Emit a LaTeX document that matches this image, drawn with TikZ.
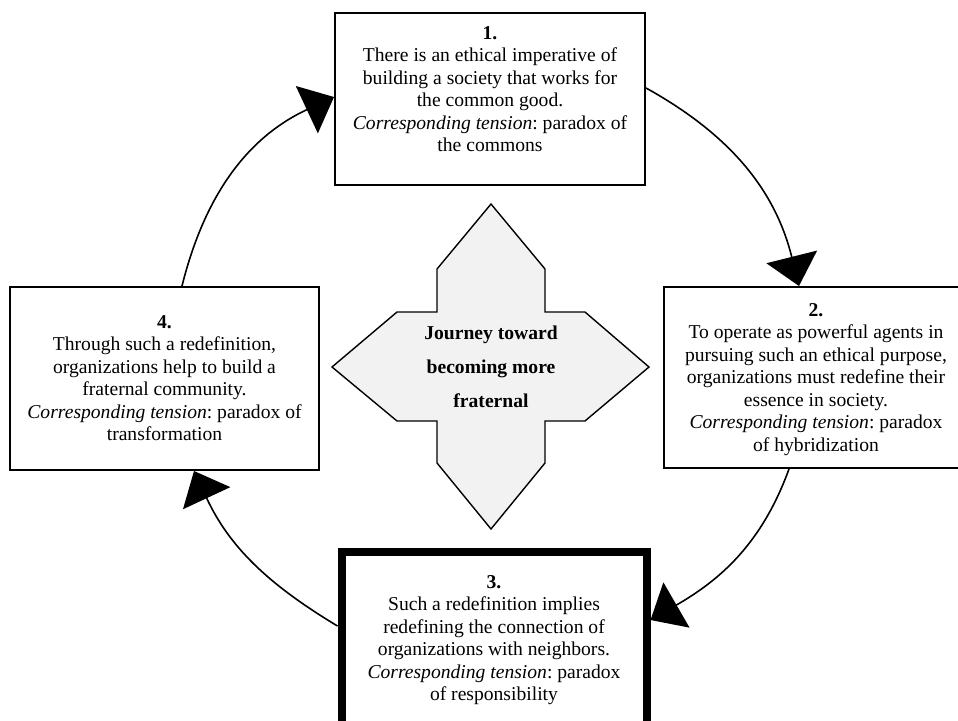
\documentclass[tikz,border=0pt]{standalone}
\usepackage{fontspec}
\setmainfont{Liberation Serif}
\frenchspacing
\usepackage{tikz}
\usetikzlibrary{calc,shapes,positioning}
\usetikzlibrary{arrows.meta}
\tikzset{>={Triangle[length=30pt,width=52pt]}}

\begin{document}
\begin{tikzpicture}[x=1pt,y=1pt]
  \useasboundingbox (0,0) rectangle (958,-720);
  \begin{scope}
    \tikzstyle{bnode} = [draw=black, line width=2pt, rectangle, inner sep=0pt]
    \tikzstyle{tnode} = [align=center, inner sep=0pt, font=\fontsize{19.6}{22.5}\selectfont]
    \tikzstyle{cross} = [draw=black, line width=1.4pt, fill=black!5, line join=miter]
    \tikzstyle{flow} = [->, draw, line width=1.6pt]

    % centre shape
    \filldraw[cross] (491,-204) -- (545,-269) -- (545,-312) -- (585,-312) -- (649,-367)
      -- (585,-421) -- (545,-421) -- (545,-463) -- (491,-529) -- (437,-463)
      -- (437,-421) -- (397,-421) -- (332,-367) -- (397,-312) -- (437,-312)
      -- (437,-269) -- cycle;
    \node[align=center, font=\fontsize{19.6}{34}\selectfont\bfseries] (core) at (491,-367)
      {Journey toward\\becoming more\\fraternal};

    \node[bnode, minimum width=310pt, minimum height=172pt] (b1) at (490,-99) {};
    \node[tnode, below=14pt of b1.north] (t1) {\textbf{1.}\\There is an ethical imperative of\\
      building a society that works for\\the common good.\\
      \textit{Corresponding tension}: paradox of\\the commons};

    \node[bnode, minimum width=304pt, minimum height=181pt] (b2) at (816,-377.5) {};
    \node[tnode, below=17pt of b2.north] (t2) {\textbf{2.}\\To operate as powerful agents in\\
      pursuing such an ethical purpose,\\organizations must redefine their\\
      essence in society.\\\textit{Corresponding tension}: paradox\\of hybridization};

    \node[bnode, line width=8pt, minimum width=305pt, minimum height=177pt] (b3) at (494,-640.5) {};
    \node[tnode, below=27pt of b3.north] (t3) {\textbf{3.}\\Such a redefinition implies\\
      redefining the connection of\\organizations with neighbors.\\
      \textit{Corresponding tension}: paradox\\of responsibility};

    \node[bnode, minimum width=309pt, minimum height=183pt] (b4) at (164.5,-378.5) {};
    \node[tnode, below=29pt of b4.north] (t4) {\textbf{4.}\\Through such a redefinition,\\
      organizations help to build a\\fraternal community.\\
      \textit{Corresponding tension}: paradox of\\transformation};

    \path
    ([yshift=11pt]b1.east) edge[flow, out=-29, in=104] ([xshift=-17pt]b2.north)
    ([xshift=-27pt]b2.south) edge[flow, out=-110, in=30] ([yshift=-72pt]b3.north east)
    ([yshift=-78pt]b3.north west) edge[flow, out=149, in=-65] ([xshift=29.5pt]b4.south)
    ([xshift=17.5pt]b4.north) edge[flow, out=76, in=205] ([yshift=2pt]b1.west)
    ;
  \end{scope}
\end{tikzpicture}
\end{document}
